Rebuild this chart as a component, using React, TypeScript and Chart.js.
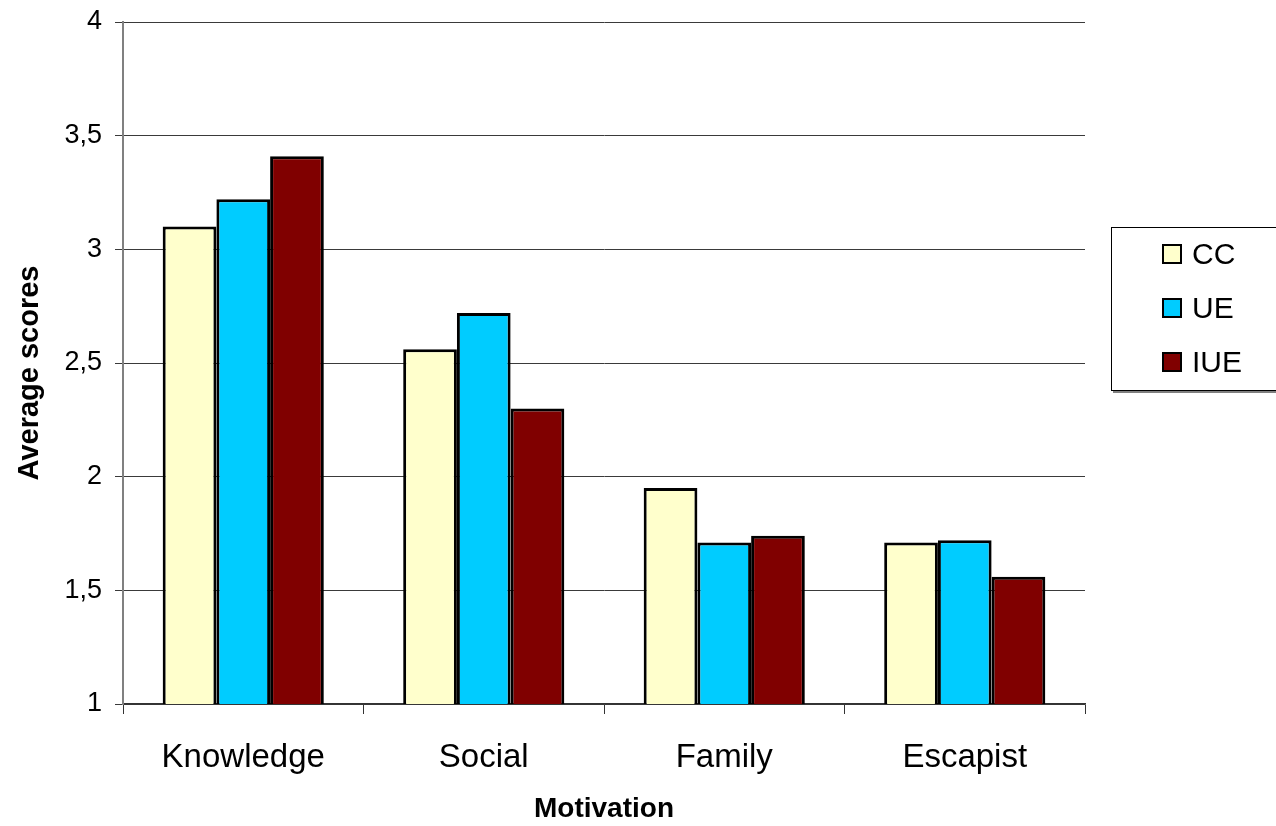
import React, { useEffect, useRef } from "react";
import { Chart, registerables } from "chart.js";

Chart.register(...registerables);

const categories = ["Knowledge", "Social", "Family", "Escapist"];
const seriesNames = ["CC", "UE", "IUE"];
const ccValues = [3.1, 2.56, 1.95, 1.71];
const ueValues = [3.22, 2.72, 1.71, 1.72];
const iueValues = [3.41, 2.3, 1.74, 1.56];
const seriesColors = ["#FFFFCC", "#00CCFF", "#800000"];
const yAxisTitle = "Average scores";
const xAxisTitle = "Motivation";

const FONT = "'Liberation Sans', Arial, sans-serif";

const yTitlePlugin = {
  id: "yTitlePlugin",
  afterDraw(chart: any) {
    const ctx = chart.ctx;
    const area = chart.chartArea;
    ctx.save();
    ctx.translate(30, (area.top + area.bottom) / 2 + 10);
    ctx.rotate(-Math.PI / 2);
    ctx.font = `bold 29px ${FONT}`;
    ctx.fillStyle = "#000000";
    ctx.textAlign = "center";
    ctx.textBaseline = "middle";
    ctx.fillText(yAxisTitle, 0, 0);
    ctx.restore();
  },
};

export default function App() {
  const ref = useRef<HTMLCanvasElement | null>(null);

  useEffect(() => {
    const canvas = ref.current;
    if (!canvas) return;
    const values = [ccValues, ueValues, iueValues];
    const chart = new Chart(canvas, {
      type: "bar",
      data: {
        labels: categories,
        datasets: seriesNames.map((name, i) => ({
          label: name,
          data: values[i],
          backgroundColor: seriesColors[i],
          borderColor: "#000000",
          borderWidth: 3,
          borderSkipped: false,
          categoryPercentage: 0.67,
          barPercentage: 1,
        })),
      },
      plugins: [yTitlePlugin],
      options: {
        animation: false,
        responsive: false,
        devicePixelRatio: 1,
        layout: { padding: { top: 22, right: 191, bottom: 0, left: 0 } },
        plugins: {
          legend: { display: false },
          tooltip: { enabled: false },
        },
        scales: {
          x: {
            offset: true,
            grid: {
              offset: true,
              drawOnChartArea: false,
              drawTicks: true,
              tickLength: 10,
              color: "#333333",
              lineWidth: 1,
            },
            border: { display: true, color: "#333333", width: 1.5 },
            ticks: {
              color: "#000000",
              font: { family: FONT, size: 33 },
              padding: 24,
            },
            title: {
              display: true,
              text: xAxisTitle,
              color: "#000000",
              font: { family: FONT, size: 28, weight: "bold" },
              padding: { top: 0, bottom: 0 },
            },
            afterFit: (scale: any) => {
              scale.height = 122;
              scale.paddingLeft = 0;
              scale.paddingRight = 0;
            },
          },
          y: {
            min: 1,
            max: 4,
            grid: {
              color: "#3a3a3a",
              lineWidth: 1,
              tickLength: 8,
            },
            border: { display: true, color: "#808080", width: 2 },
            ticks: {
              stepSize: 0.5,
              color: "#000000",
              font: { family: FONT, size: 27 },
              padding: 13,
              callback: (v: any) => String(v).replace(".", ","),
            },
            title: { display: false },
            afterFit: (scale: any) => {
              scale.width = 123;
              scale.paddingTop = 0;
              scale.paddingBottom = 0;
            },
          },
        },
      },
    });
    return () => chart.destroy();
  }, []);

  return (
    <div
      style={{
        position: "fixed",
        left: 0,
        top: 0,
        width: 1276,
        height: 826,
        overflow: "hidden",
        background: "#ffffff",
      }}
    >
      <canvas ref={ref} width={1276} height={826} style={{ display: "block" }} />
      <div
        style={{
          position: "absolute",
          left: 1111,
          top: 227,
          width: 180,
          height: 164,
          border: "1.5px solid #000",
          boxShadow: "2px 2px 0 #808080",
          background: "#fff",
          boxSizing: "border-box",
        }}
      >
        {seriesNames.map((name, i) => (
          <div
            key={name}
            style={{
              position: "absolute",
              left: 50,
              top: 26 + i * 54 - 17,
              height: 34,
              display: "flex",
              alignItems: "center",
              fontFamily: FONT,
              fontSize: 30,
              color: "#000",
            }}
          >
            <span
              style={{
                display: "inline-block",
                width: 20,
                height: 20,
                boxSizing: "border-box",
                border: "2px solid #000",
                background: seriesColors[i],
                marginRight: 10,
              }}
            />
            <span>{name}</span>
          </div>
        ))}
      </div>
    </div>
  );
}
